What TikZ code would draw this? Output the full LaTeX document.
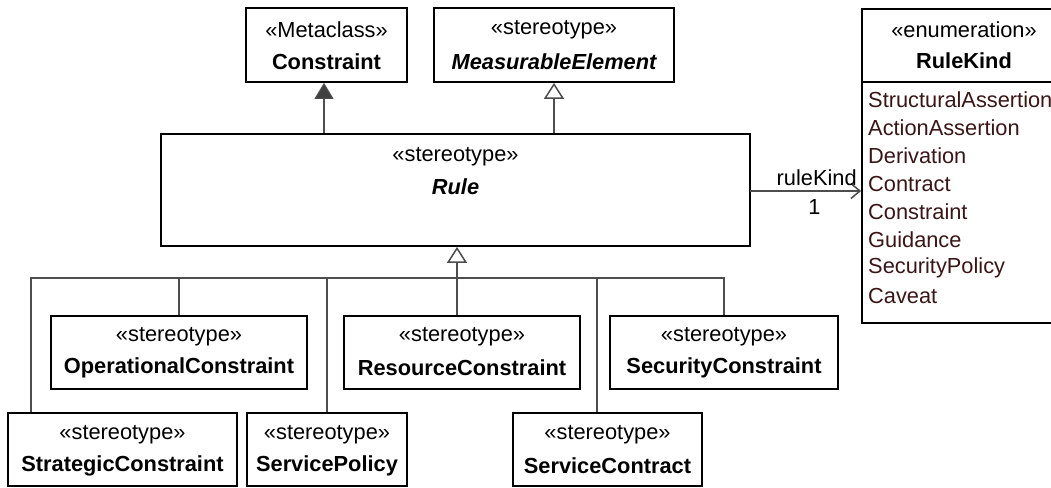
\documentclass[tikz,border=0pt]{standalone}
\usepackage{fontspec}
\setmainfont{Liberation Sans}
\usetikzlibrary{arrows.meta}
\definecolor{conncol}{HTML}{4D4D4D}
\definecolor{fillarrow}{HTML}{404040}
\definecolor{litcol}{HTML}{3A1616}
\begin{document}
\begin{tikzpicture}[x=1pt,y=-1pt,
  box/.style={draw=black, line width=1.8pt, fill=white, inner sep=0pt},
  txt/.style={inner sep=0pt, font=\fontsize{21.8}{25}\selectfont},
  lit/.style={txt, anchor=west, text=litcol},
  conn/.style={draw=conncol, line width=1.5pt},
  gen/.style={conn, -{Triangle[length=16pt,width=20pt,fill=white,line width=1.5pt]}},
  ext/.style={conn, -{Triangle[length=16pt,width=19pt,fill=fillarrow,line width=1pt]}},
  nav/.style={conn, -{Straight Barb[length=9pt,width=15pt,line width=1.5pt]}}]
\useasboundingbox (0,0) rectangle (1051,487);
\begin{scope}
\clip (0,0) rectangle (1051,487);
% top boxes
\node[box, minimum width=161pt, minimum height=74pt] (constraint) at (326.5,45) {};
\node[txt] (constraintS) at (326.5,30) {«Metaclass»};
\node[txt] (constraintN) at (326.5,62) {\bfseries Constraint};
\node[box, minimum width=240pt, minimum height=74pt] (measurable) at (554,45) {};
\node[txt] (measurableS) at (554,30) {«stereotype»};
\node[txt] (measurableN) at (554,62) {\bfseries\itshape MeasurableElement};
% Rule
\node[box, minimum width=589pt, minimum height=112pt] (rule) at (455.5,190) {};
\node[txt] (ruleS) at (455.5,157) {«stereotype»};
\node[txt] (ruleN) at (455.5,187) {\bfseries\itshape Rule};
% RuleKind
\node[box, minimum width=204pt, minimum height=314pt] (rulekind) at (964,166) {};
\coordinate (div) at (964,82);
\draw[line width=1.8pt] (rulekind.west |- div) -- (rulekind.east |- div);
\node[txt] (rulekindS) at (964,30) {«enumeration»};
\node[txt] (rulekindN) at (964,61) {\bfseries RuleKind};
\node[lit] (l1) at (868,100) {StructuralAssertion};
\node[lit] (l2) at (868,128) {ActionAssertion};
\node[lit] (l3) at (868,156) {Derivation};
\node[lit] (l4) at (868,184) {Contract};
\node[lit] (l5) at (868,212) {Constraint};
\node[lit] (l6) at (868,240) {Guidance};
\node[lit] (l7) at (868,268) {SecurityPolicy};
\node[lit] (l8) at (868,296) {Caveat};
\end{scope}
% bottom boxes
\node[box, minimum width=256pt, minimum height=73pt] (opc) at (179,352.5) {};
\node[txt] (opcS) at (179,337) {«stereotype»};
\node[txt] (opcN) at (179,368) {\bfseries OperationalConstraint};
\node[box, minimum width=236pt, minimum height=73pt] (resc) at (462,352.5) {};
\node[txt] (rescS) at (462,337) {«stereotype»};
\node[txt] (rescN) at (462,368) {\bfseries ResourceConstraint};
\node[box, minimum width=228pt, minimum height=73pt] (secc) at (724,352.5) {};
\node[txt] (seccS) at (724,337) {«stereotype»};
\node[txt] (seccN) at (724,368) {\bfseries SecurityConstraint};
\node[box, minimum width=229pt, minimum height=73pt] (strc) at (122.5,449.5) {};
\node[txt] (strcS) at (122.5,435) {«stereotype»};
\node[txt] (strcN) at (122.5,466) {\bfseries StrategicConstraint};
\node[box, minimum width=160pt, minimum height=73pt] (spol) at (327,449.5) {};
\node[txt] (spolS) at (327,435) {«stereotype»};
\node[txt] (spolN) at (327,466) {\bfseries ServicePolicy};
\node[box, minimum width=189pt, minimum height=73pt] (scon) at (607.5,449.5) {};
\node[txt] (sconS) at (607.5,435) {«stereotype»};
\node[txt] (sconN) at (607.5,466) {\bfseries ServiceContract};
% connectors
\draw[ext] ([xshift=-2.5pt]constraint.south |- rule.north) -- ([xshift=-2.5pt]constraint.south);
\draw[gen] (measurable.south |- rule.north) -- (measurable.south);
\coordinate (hub) at (457,278);
\draw[conn] ([xshift=24pt]strc.north west) |- (hub);
\draw[conn] (opc.north) |- (hub);
\draw[conn] (spol.north) |- (hub);
\draw[conn] (hub |- resc.north) -- (hub);
\draw[conn] ([xshift=-10.5pt]scon.north) |- (hub);
\draw[conn] (secc.north) |- (hub);
\draw[gen] (hub) -- (hub |- rule.south);
\coordinate (assoc) at (750,191);
\draw[nav] (assoc) -- (rulekind.west |- assoc)
  node[pos=0.6, above=5pt, txt] (rkLabel) {ruleKind}
  node[pos=0.58, below=8pt, txt] (rkMult) {1};
\end{tikzpicture}
\end{document}
